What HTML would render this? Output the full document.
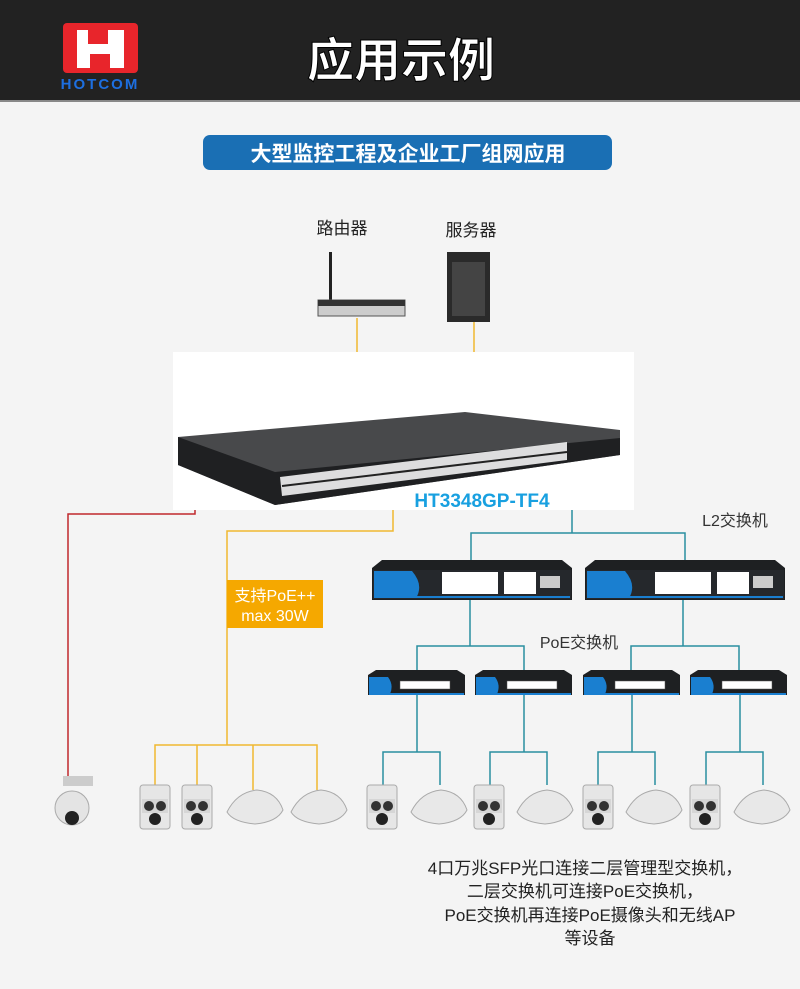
<!DOCTYPE html>
<html><head><meta charset="utf-8"><style>
html,body{margin:0;padding:0;}
body{width:800px;height:984px;background:#f4f4f4;overflow:hidden;font-family:"Liberation Sans","Noto Sans CJK SC",sans-serif;}
</style></head><body>
<svg width="800" height="984" viewBox="0 0 800 984" xmlns="http://www.w3.org/2000/svg" font-family="Liberation Sans, Noto Sans CJK SC, sans-serif">
<defs>
<g id="l2">
 <path d="M0,8 L10,0 L190,0 L200,8 L200,40 L0,40 Z" fill="#1e2022"/>
 <rect x="1" y="10" width="198" height="29" fill="#25282c"/>
 <path d="M2,11 L40,11 Q52,25 44,38 L2,38 Z" fill="#1a7fd0"/>
 <rect x="70" y="12" width="56" height="22" fill="#fff"/>
 <rect x="132" y="12" width="32" height="22" fill="#fff"/>
 <rect x="168" y="16" width="20" height="12" fill="#ccc"/>
 <rect x="2" y="36" width="196" height="2" fill="#1a7fd0"/>
</g>
<g id="poe">
 <path d="M0,5 L8,0 L89,0 L97,5 L97,25 L0,25 Z" fill="#1e2022"/>
 <path d="M1,7 L20,7 Q26,15 22,24 L1,24 Z" fill="#1a7fd0"/>
 <rect x="32" y="11" width="50" height="8" fill="#fff" stroke="#555" stroke-width="0.5"/>
 <rect x="1" y="23" width="95" height="2" fill="#1a7fd0"/>
</g>
<g id="cam">
 <rect x="0" y="0" width="30" height="44" rx="3" fill="#e6e6e6" stroke="#aaa"/>
 <rect x="2" y="14" width="26" height="14" fill="#d6d6d6"/>
 <circle cx="9" cy="21" r="5" fill="#333"/><circle cx="21" cy="21" r="5" fill="#333"/>
 <circle cx="15" cy="34" r="6" fill="#222"/>
</g>
<g id="ap">
 <path d="M0,22 Q10,2 30,0 Q50,2 56,20 Q50,32 28,34 Q6,32 0,22 Z" fill="#e8e8e8" stroke="#aaa"/>
</g>
</defs>
<rect x="0" y="0" width="800" height="100" fill="#222"/>
<rect x="0" y="100" width="800" height="2" fill="#888"/>
<rect x="63" y="23" width="75" height="50" rx="4" fill="#e8252b"/>
<path d="M77,30 L88,30 L88,44 L108,44 L108,30 L124,30 L124,68 L110,68 L110,54 L90,54 L90,68 L77,68 Z" fill="#fff"/>
<text x="100" y="89" text-anchor="middle" font-size="15" font-weight="bold" fill="#1d6fe0" letter-spacing="2">HOTCOM</text>
<text x="401" y="77" text-anchor="middle" font-size="47" font-weight="bold" fill="#fff" stroke="#000" stroke-width="1">应用示例</text>
<rect x="203" y="135" width="409" height="35" rx="7" fill="#1a6fb4"/>
<text x="408" y="161" text-anchor="middle" font-size="21" font-weight="bold" fill="#fff">大型监控工程及企业工厂组网应用</text>
<text x="342" y="234" text-anchor="middle" font-size="17" fill="#222">路由器</text>
<text x="471" y="236" text-anchor="middle" font-size="17" fill="#222">服务器</text>
<rect x="329" y="252" width="3" height="48" fill="#222"/>
<path d="M318,300 L405,300 L405,316 L318,316 Z" fill="#ccc" stroke="#555"/>
<rect x="318" y="300" width="87" height="6" fill="#333"/>
<rect x="447" y="252" width="43" height="70" fill="#2a2a2a"/>
<rect x="452" y="262" width="33" height="54" fill="#444"/>
<g stroke="#f0b830" stroke-width="1.5" fill="none">
<path d="M357,318 V352 M474,322 V352"/>
<path d="M393,510 V531 H227 V745 M155,790 V745 H317 V790 M197,745 V790 M253,745 V790"/>
</g>
<path d="M195,510 V514 H68 V780" stroke="#c0282d" stroke-width="1.5" fill="none"/>
<rect x="173" y="352" width="461" height="158" fill="#fff"/>
<path d="M178,437 L465,412 L620,430 L620,455 L275,505 L178,465 Z" fill="#48494b"/>
<path d="M178,437 L275,472 L620,438 L620,455 L275,505 L178,465 Z" fill="#1f2022"/>
<path d="M280,477 L567,442 L567,460 L282,496 Z" fill="#fff" opacity="0.85"/>
<path d="M282,486 L567,452" stroke="#222" stroke-width="2"/>
<text x="482" y="507" text-anchor="middle" font-size="19" font-weight="bold" fill="#18a0e0">HT3348GP-TF4</text>
<rect x="227" y="580" width="96" height="48" fill="#f5a800"/>
<text x="275" y="601" text-anchor="middle" font-size="16" fill="#fff">支持PoE++</text>
<text x="275" y="621" text-anchor="middle" font-size="16" fill="#fff">max 30W</text>
<g stroke="#2a8fa0" stroke-width="1.5" fill="none">
<path d="M572,510 V533 M471,560 V533 H685 V560"/>
<path d="M470,600 V646 M417,670 V646 H524 V670 M683,600 V646 M631,670 V646 H739 V670"/>
<path d="M417,695 V752 M383,785 V752 H440 V785"/>
<path d="M524,695 V752 M490,785 V752 H547 V785"/>
<path d="M632,695 V752 M598,785 V752 H655 V785"/>
<path d="M740,695 V752 M706,785 V752 H763 V785"/>
</g>
<text x="735" y="526" text-anchor="middle" font-size="16" fill="#333">L2交换机</text>
<text x="579" y="648" text-anchor="middle" font-size="16" fill="#333">PoE交换机</text>
<use href="#l2" x="372" y="560"/><use href="#l2" x="585" y="560"/>
<use href="#poe" x="368" y="670"/><use href="#poe" x="475" y="670"/>
<use href="#poe" x="583" y="670"/><use href="#poe" x="690" y="670"/>
<use href="#cam" x="140" y="785"/><use href="#cam" x="182" y="785"/>
<use href="#ap" x="227" y="790"/><use href="#ap" x="291" y="790"/>
<use href="#cam" x="367" y="785"/><use href="#ap" x="411" y="790"/>
<use href="#cam" x="474" y="785"/><use href="#ap" x="517" y="790"/>
<use href="#cam" x="583" y="785"/><use href="#ap" x="626" y="790"/>
<use href="#cam" x="690" y="785"/><use href="#ap" x="734" y="790"/>
<rect x="63" y="776" width="30" height="10" fill="#ccc"/>
<circle cx="72" cy="808" r="17" fill="#e4e4e4" stroke="#aaa"/>
<circle cx="72" cy="818" r="7" fill="#222"/>
<g font-size="17" fill="#222" text-anchor="middle">
<text x="585" y="874">4口万兆SFP光口连接二层管理型交换机，</text>
<text x="585" y="897">二层交换机可连接PoE交换机，</text>
<text x="590" y="921">PoE交换机再连接PoE摄像头和无线AP</text>
<text x="590" y="944">等设备</text>
</g>
</svg>
</body></html>
